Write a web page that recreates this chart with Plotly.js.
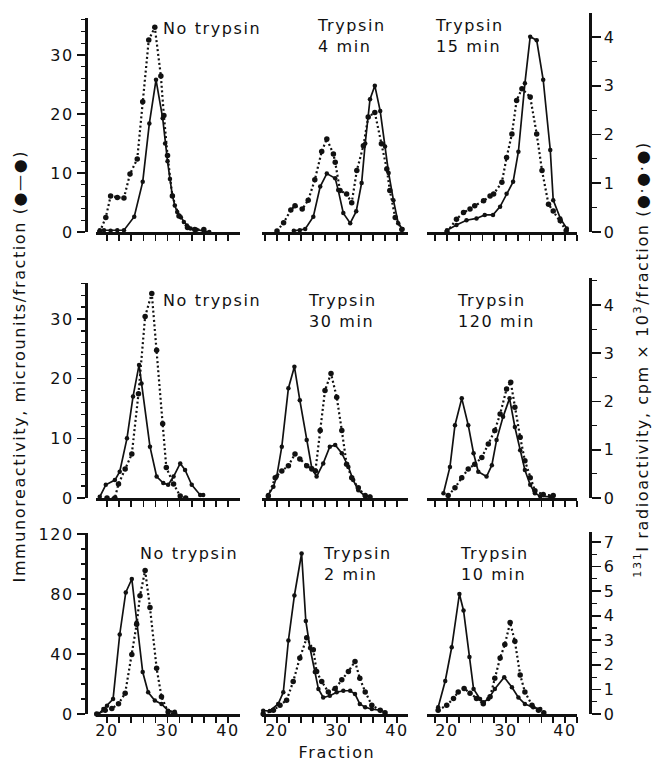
<!DOCTYPE html>
<html>
<head>
<meta charset="utf-8">
<script src="https://cdn.plot.ly/plotly-3.0.1.min.js"></script>
<style>
html,body{margin:0;padding:0;background:#fff;}
#chart{width:652px;height:762px;}
.main-svg text{letter-spacing:1.6px;}
</style>
</head>
<body>
<div id="chart"></div>
<script>
// ---------------- DATA ----------------
// Row 1
const r1c1SolidX = [18.8,19.5,20.6,21.7,22.8,24.5,25.9,27.0,28.1,29.2,29.6,30.0,30.4,30.8,31.2,31.6,32.2,32.7,33.2,33.8,34.8,36.0,36.9];
const r1c1SolidY = [0.3,0.3,0.2,0.3,0.3,2.6,8.5,18.4,25.8,19.3,15.0,12.0,9.0,6.2,4.5,3.4,2.5,1.7,1.1,0.6,0.4,0.2,0.0];
const r1c1DotX = [18.8,19.8,20.6,21.7,22.8,23.8,25.0,25.9,26.9,27.9,28.9,29.4,30.0,30.8,31.9,33.3,34.5,36.0];
const r1c1DotY = [0.0,0.3,0.74,0.71,0.7,1.19,1.5,2.67,3.94,4.2,3.2,2.39,1.57,0.74,0.33,0.09,0.05,0.05];

const r1c2SolidX = [22.8,23.8,24.7,26.05,27.2,28.3,29.7,30.2,31.05,32.2,33.2,34.1,34.7,35.5,36.3,37.2,38.0,38.6,39.4,40.2,40.9];
const r1c2SolidY = [0.2,0.3,0.5,2.6,7.7,9.9,9.1,7.1,3.2,1.5,3.5,8.3,15.0,22.5,24.8,20.5,14.5,10.0,5.4,1.5,0.5];
const r1c2DotX = [20.0,21.1,22.3,23.0,24.2,25.2,26.3,27.45,28.3,29.4,29.7,30.5,31.6,32.45,33.3,34.4,35.2,36.3,37.4,38.3,38.8,39.7,40.8];
const r1c2DotY = [0.02,0.19,0.45,0.54,0.47,0.65,1.07,1.65,1.91,1.6,1.43,0.85,0.78,0.6,1.26,1.77,2.36,2.45,1.81,1.29,0.85,0.3,0.05];

const r1c3SolidX = [20.0,21.6,23.3,25.0,26.4,27.8,29.0,30.1,31.2,32.1,33.2,34.1,35.2,36.3,37.5,38.0,39.2,40.3];
const r1c3SolidY = [0.3,1.2,2.0,2.3,2.9,2.9,4.3,6.5,8.5,13.6,25.2,33.1,32.5,25.8,13.9,5.4,2.3,0.6];
const r1c3DotX = [20.0,21.6,22.8,23.9,24.7,26.2,27.3,27.9,29.3,30.1,31.0,31.8,32.7,34.1,35.2,36.1,37.2,38.0,39.2,40.2];
const r1c3DotY = [0.0,0.26,0.4,0.47,0.54,0.64,0.74,0.78,1.02,1.53,2.01,2.7,2.94,2.77,2.01,1.26,0.57,0.43,0.23,0.03];

// Row 2
const r2c1SolidX = [18.8,19.8,21.3,22.1,23.3,24.3,25.3,25.7,27.1,28.2,29.3,30.1,31.0,32.1,32.9,34.0,35.4,35.9];
const r2c1SolidY = [0.2,2.2,3.0,4.4,10.0,17.0,22.3,19.2,8.6,3.6,2.5,2.2,3.6,5.8,4.7,2.2,0.5,0.5];
const r2c1DotX = [20.0,21.3,21.9,23.0,24.1,25.2,26.3,27.4,28.2,29.2,29.8,31.0,32.1,33.0];
const r2c1DotY = [0.0,0.0,0.29,0.6,0.91,2.16,3.76,4.24,3.06,1.54,0.63,0.29,0.04,0.0];

const r2c2SolidX = [18.55,19.4,19.95,20.8,21.9,22.9,23.8,24.95,25.8,26.6,27.7,28.8,29.7,30.8,31.9,32.7,33.55,34.7,35.5];
const r2c2SolidY = [0.5,1.9,3.6,8.6,18.4,22.0,16.4,9.7,5.0,3.6,5.8,8.6,8.9,7.5,5.2,3.0,1.3,0.3,0.2];
const r2c2DotX = [18.55,19.7,20.8,21.9,23.0,23.8,24.95,25.8,26.4,27.2,28.0,29.0,29.95,30.8,31.6,32.45,33.55,34.7,35.5];
const r2c2DotY = [0.04,0.42,0.56,0.67,0.91,0.81,0.67,0.6,0.56,1.4,2.23,2.58,2.09,1.4,0.7,0.42,0.21,0.05,0.02];

const r2c3SolidX = [19.4,20.5,21.35,22.5,23.6,24.5,25.3,26.7,27.6,28.4,29.5,30.6,31.5,32.4,33.2,34.1,34.9,35.8,37.5];
const r2c3SolidY = [0.8,5.2,12.2,16.7,12.2,7.5,4.4,3.6,5.5,9.7,13.6,16.7,11.9,8.0,4.7,2.2,0.8,0.3,0.2];
const r2c3DotX = [20.2,21.35,22.5,23.6,24.7,25.9,27.0,28.1,29.0,30.1,30.8,31.5,32.4,33.2,34.1,34.9,36.3,38.0];
const r2c3DotY = [0.05,0.21,0.42,0.6,0.7,0.84,1.12,1.4,1.74,2.26,2.4,1.88,1.26,0.77,0.42,0.15,0.07,0.05];

// Row 3
const r3c1SolidX = [18.6,19.4,20.0,21.0,22.1,23.1,24.1,24.9,25.9,26.8,27.9,29.0,30.1,31.2];
const r3c1SolidY = [0,3.3,5.5,10,53,81,90,61,28,14.5,9,6.7,2.2,1.5];
const r3c1DotX = [18.3,19.7,20.8,21.9,23.0,24.1,24.9,25.45,26.3,27.1,28.2,29.0,30.1,31.2];
const r3c1DotY = [0,0.15,0.22,0.42,0.84,2.42,3.65,4.81,5.84,4.33,1.86,0.7,0.08,0];

const r3c2SolidX = [17.7,18.8,20.2,21.05,21.9,22.9,24.1,24.8,25.5,26.3,26.9,27.7,28.8,29.95,31.05,32.2,33.0,33.8,34.7,35.8,37.2];
const r3c2SolidY = [2.2,2,6.7,14.5,49,79,107,62,44,28,16.7,11,12.2,14.5,15.5,15.5,13.3,6.7,4.5,3.3,2.5];
const r3c2DotX = [17.7,19.4,20.5,21.6,22.7,23.8,24.95,26.05,26.6,27.45,28.55,29.7,30.8,31.9,33.0,33.8,34.7,35.8,37.2,38.0];
const r3c2DotY = [0,0.15,0.36,0.56,1.32,2.28,3.1,2.62,1.73,1.32,0.9,1.04,1.39,1.73,2.14,1.45,0.9,0.36,0.15,0.05];

const r3c3SolidX = [18.5,19.7,20.8,22.1,22.8,23.8,24.5,25.6,26.15,27.0,28.1,29.7,31.0,32.1,33.2,34.6,35.8];
const r3c3SolidY = [4.5,22,44.5,80,69,38,16.7,10,7.8,10,16.7,24.5,17.8,11,6.7,4.5,3.3];
const r3c3DotX = [18.5,19.95,21.1,21.9,22.9,23.9,25.0,26.15,27.3,28.1,29.0,29.8,30.7,31.5,32.4,33.2,34.4,35.5,36.4];
const r3c3DotY = [0.15,0.36,0.63,0.9,1.04,0.84,0.63,0.42,0.7,1.45,2.28,2.83,3.72,2.96,1.59,0.9,0.36,0.15,0.05];

const panelTitles = [
  "No trypsin", "Trypsin<br>4 min", "Trypsin<br>15 min",
  "No trypsin", "Trypsin<br>30 min", "Trypsin<br>120 min",
  "No trypsin", "Trypsin<br>2 min", "Trypsin<br>10 min"
];
const xTickVals = [20,30,40];
const leftTickVals = [[0,10,20,30],[0,10,20,30],[0,40,80,120]];
const rightTickVals = [[0,1,2,3,4],[0,1,2,3,4],[0,1,2,3,4,5,6,7]];
const leftTitle = "Immunoreactivity, microunits/fraction (●—●)";
const rightTitle = "<sup>131</sup>I radioactivity, cpm × 10<sup>3</sup>/fraction (●·●·●)";
const xTitle = "Fraction";

// ---------------- LAYOUT (pixel geometry) ----------------
const W = 652, H = 762;
const fx = v => v / W;
const fy = v => 1 - v / H;
const INK = '#111';
const FONT = {family: 'DejaVu Sans, Liberation Sans, sans-serif', size: 16, color: INK};

const colDom = [[96,240],[262,408],[427,577]];
const colRange = [[18.18,41.98],[17.5,41.83],[16.61,42.03]];
const rowZero = [232, 498, 714];
const leftTop = [18, 283, 533];
const leftScale = [5.9, 5.967, 1.5];
const leftMinor = [2, 2, 10];
const rightTop = [13, 278, 532];
const rightScale = [48.75, 48.25, 24.57];

const solids = [
  [r1c1SolidX,r1c1SolidY],[r1c2SolidX,r1c2SolidY],[r1c3SolidX,r1c3SolidY],
  [r2c1SolidX,r2c1SolidY],[r2c2SolidX,r2c2SolidY],[r2c3SolidX,r2c3SolidY],
  [r3c1SolidX,r3c1SolidY],[r3c2SolidX,r3c2SolidY],[r3c3SolidX,r3c3SolidY]
];
const dots = [
  [r1c1DotX,r1c1DotY],[r1c2DotX,r1c2DotY],[r1c3DotX,r1c3DotY],
  [r2c1DotX,r2c1DotY],[r2c2DotX,r2c2DotY],[r2c3DotX,r2c3DotY],
  [r3c1DotX,r3c1DotY],[r3c2DotX,r3c2DotY],[r3c3DotX,r3c3DotY]
];

const layout = {
  width: W, height: H,
  margin: {l:0, r:0, t:0, b:0},
  paper_bgcolor: '#fff', plot_bgcolor: 'rgba(0,0,0,0)',
  showlegend: false,
  font: FONT,
  annotations: []
};
const traces = [];

for (let r = 0; r < 3; r++) {
  const ln = r === 0 ? '' : String(r + 1);        // left y: y, y2, y3
  const rn = String(r + 4);                        // right y: y4, y5, y6
  layout['yaxis' + ln] = {
    domain: [fy(rowZero[r]), fy(leftTop[r])],
    range: [0, (rowZero[r] - leftTop[r]) / leftScale[r]],
    anchor: 'free', position: fx(86), side: 'left',
    showline: true, linewidth: 2.6, linecolor: INK,
    ticks: 'outside', ticklen: 8, tickwidth: 1.6, tickcolor: INK,
    tickmode: 'array', tickvals: leftTickVals[r],
    minor: {dtick: leftMinor[r], tick0: 0, ticks: 'outside', ticklen: 4, tickwidth: 1.2, tickcolor: INK, showgrid: false},
    tickfont: FONT, showgrid: false, zeroline: false, fixedrange: true
  };
  layout['yaxis' + rn] = {
    domain: [fy(rowZero[r]), fy(rightTop[r])],
    range: [0, (rowZero[r] - rightTop[r]) / rightScale[r]],
    anchor: 'free', position: fx(590), side: 'right',
    showline: true, linewidth: 2.6, linecolor: INK,
    ticks: 'outside', ticklen: 9, tickwidth: 1.6, tickcolor: INK,
    tickmode: 'array', tickvals: rightTickVals[r],
    minor: {dtick: 0.5, tick0: 0, ticks: 'outside', ticklen: 5, tickwidth: 1.2, tickcolor: INK, showgrid: false},
    tickfont: FONT, showgrid: false, zeroline: false, fixedrange: true
  };
  for (let c = 0; c < 3; c++) {
    const n = r * 3 + c + 1;
    const xn = n === 1 ? '' : String(n);
    layout['xaxis' + xn] = {
      domain: [fx(colDom[c][0]), fx(colDom[c][1])],
      range: colRange[c],
      anchor: 'y' + ln,
      showline: true, linewidth: 2.6, linecolor: INK,
      ticks: 'outside', ticklen: 6, tickwidth: 1.6, tickcolor: INK,
      tickmode: 'array', tickvals: xTickVals,
      minor: {dtick: 2, tick0: 20, ticks: 'outside', ticklen: 6, tickwidth: 1.6, tickcolor: INK, showgrid: false},
      showticklabels: r === 2,
      ticklabelstandoff: -6,
      tickfont: FONT, showgrid: false, zeroline: false, fixedrange: true
    };
    const s = solids[n - 1], d = dots[n - 1];
    traces.push({
      x: s[0], y: s[1], xaxis: 'x' + xn, yaxis: 'y' + ln,
      type: 'scatter', mode: 'lines+markers', cliponaxis: false,
      line: {color: INK, width: 1.7},
      marker: {color: INK, size: 4.5},
      hoverinfo: 'skip'
    });
    traces.push({
      x: d[0], y: d[1], xaxis: 'x' + xn, yaxis: 'y' + rn,
      type: 'scatter', mode: 'lines+markers', cliponaxis: false,
      line: {color: INK, width: 2.2, dash: '2px,2.6px'},
      marker: {color: INK, size: 5.5},
      hoverinfo: 'skip'
    });
  }
}

// Panel labels (top-left corner of text block)
const titlePos = [
  [162,18],[316,15],[434,15],
  [162,290],[307,290],[456,290],
  [139,543],[322,543],[459,543]
];
panelTitles.forEach((t, i) => {
  layout.annotations.push({
    text: t, xref: 'paper', yref: 'paper',
    x: fx(titlePos[i][0]), y: fy(titlePos[i][1]),
    xanchor: 'left', yanchor: 'top', align: 'left',
    showarrow: false, font: FONT, borderpad: 0
  });
});

// Axis titles
layout.annotations.push({
  text: leftTitle, xref: 'paper', yref: 'paper',
  x: fx(19), y: fy(366), xanchor: 'center', yanchor: 'middle',
  textangle: -90, showarrow: false, font: FONT
});
layout.annotations.push({
  text: rightTitle, xref: 'paper', yref: 'paper',
  x: fx(641), y: fy(360), xanchor: 'center', yanchor: 'middle',
  textangle: -90, showarrow: false, font: FONT
});
layout.annotations.push({
  text: xTitle, xref: 'paper', yref: 'paper',
  x: fx(337), y: fy(752), xanchor: 'center', yanchor: 'middle',
  showarrow: false, font: FONT
});

Plotly.newPlot('chart', traces, layout, {staticPlot: true, displayModeBar: false});
</script>
</body>
</html>
